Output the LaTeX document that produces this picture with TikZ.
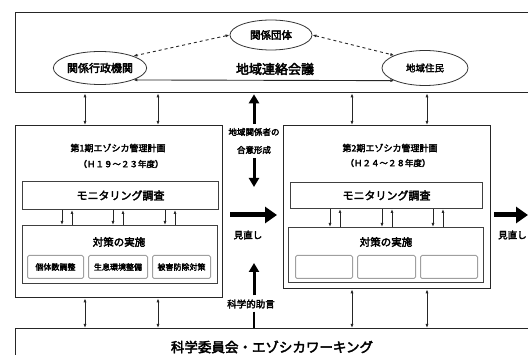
\documentclass[tikz,border=0pt]{standalone}
\usepackage{fontspec}
\newfontfamily\jp{Noto Sans CJK JP}[AutoFakeBold=3]
\usetikzlibrary{arrows.meta,shapes.geometric,calc}
\newcommand{\fs}[1]{\fontsize{#1}{#1}\selectfont}
\begin{document}
\begin{tikzpicture}[x=1pt,y=-1pt,font=\jp\bfseries,
  bigbox/.style={draw=black!85,line width=1.3pt,anchor=north west,inner sep=0pt},
  innerbox/.style={draw=black!75,line width=1pt,anchor=north west,inner sep=0pt},
  subbox/.style={draw=gray!75,line width=1pt,rounded corners=1.5pt,anchor=north west,inner sep=0pt,font=\jp\bfseries\fs{8}},
  oval/.style={ellipse,draw=black!80,line width=0.8pt,inner sep=0pt},
  lbl/.style={inner sep=0pt},
  dbl/.style={{Latex[length=4pt,width=3pt]}-{Latex[length=4pt,width=3pt]},line width=0.9pt,draw=black!85},
  dashdbl/.style={dbl,dashed},
  oneway/.style={-{Latex[length=4pt,width=3pt]},line width=0.9pt,draw=black!85},
  fat/.style={-{Triangle[length=9pt,width=10pt]},line width=3pt},
  fatter/.style={-{Triangle[length=12pt,width=16pt]},line width=5pt}]
\useasboundingbox (0,0) rectangle (528,355);
\clip (0,0) rectangle (528,355);

% top council
\node[bigbox,minimum width=530pt,minimum height=80pt] (council) at (15,12) {};
\node[oval,minimum width=82pt,minimum height=30pt,font=\jp\bfseries\fs{10.5}] (dantai) at (271,35) {関係団体};
\node[oval,minimum width=80pt,minimum height=33pt,font=\jp\bfseries\fs{11}] (gyosei) at (100,68) {関係行政機関};
\node[oval,minimum width=86pt,minimum height=35pt,font=\jp\bfseries\fs{9.5}] (jumin) at (425,68) {地域住民};
\node[lbl,font=\jp\bfseries\fs{13}] (kaigi) at (275,69) {地域連絡会議};
\draw[dashdbl] (dantai.west) -- (gyosei.north east);
\draw[dashdbl] (dantai.east) -- (jumin.north west);
\draw[dbl] (gyosei.south east) -- (jumin.south west);

% plan boxes
\node[bigbox,minimum width=207pt,minimum height=172pt] (plan1) at (15,125) {};
\node[bigbox,minimum width=207pt,minimum height=163pt] (plan2) at (283,125) {};
\node[lbl,font=\jp\bfseries\fs{9}] (t1) at (118,148) {第1期エゾシカ管理計画};
\node[lbl,font=\jp\bfseries\fs{8.5}] (p1) at (121,164) {（Ｈ１９～２３年度）};
\node[lbl,font=\jp\bfseries\fs{9}] (t2) at (390,148) {第2期エゾシカ管理計画};
\node[lbl,font=\jp\bfseries\fs{8.5}] (p2) at (388,163) {（Ｈ２４～２８年度）};

\node[innerbox,minimum width=196pt,minimum height=28pt,font=\jp\bfseries\fs{11}] (mon1) at (22,181) {モニタリング調査};
\node[innerbox,minimum width=192pt,minimum height=26pt,font=\jp\bfseries\fs{11}] (mon2) at (290,182) {モニタリング調査};
\node[innerbox,minimum width=195pt,minimum height=58pt] (act1) at (22,225) {};
\node[innerbox,minimum width=195pt,minimum height=55pt] (act2) at (288,227) {};
\node[lbl,font=\jp\bfseries\fs{10.5}] (a1) at (119,242) {対策の実施};
\node[lbl,font=\jp\bfseries\fs{10.5}] (a2) at (386,242) {対策の実施};

\node[subbox,minimum width=56pt,minimum height=23pt] (s11) at (27,255) {個体数調整};
\node[subbox,minimum width=59pt,minimum height=23pt] (s12) at (88,255) {生息環境整備};
\node[subbox,minimum width=58pt,minimum height=23pt] (s13) at (152,255) {被害防除対策};
\node[subbox,minimum width=57pt,minimum height=23pt] (s21) at (295,255) {};
\node[subbox,minimum width=58pt,minimum height=23pt] (s22) at (357,255) {};
\node[subbox,minimum width=57pt,minimum height=23pt] (s23) at (420,255) {};

% small arrow pairs between monitoring and measures
\foreach \x in {40,91,143}{
  \path ($(mon1.south west)+(\x,0)$) coordinate (ta);
  \path ($(mon1.south west)+(\x+10,0)$) coordinate (tb);
  \draw[oneway] (ta) -- (ta |- act1.north);
  \draw[oneway] (tb |- act1.north) -- (tb);
}
\foreach \x in {40,92,143}{
  \path ($(mon2.south west)+(\x,0)$) coordinate (ta);
  \path ($(mon2.south west)+(\x+10,0)$) coordinate (tb);
  \draw[oneway] (ta) -- (ta |- act2.north);
  \draw[oneway] (tb |- act2.north) -- (tb);
}

% science committee
\node[bigbox,minimum width=530pt,minimum height=40pt] (sci) at (15,328) {};
\node[lbl,font=\jp\bfseries\fs{13.5}] (scit) at (272,347) {科学委員会・エゾシカワーキング};

% vertical connectors
\foreach \x in {70,143}{
  \path ($(plan1.north west)+(\x,0)$) coordinate (ua);
  \draw[dbl] (ua |- council.south) -- (ua);
  \path ($(plan1.south west)+(\x,0)$) coordinate (la);
  \draw[dbl] (la) -- (la |- sci.north);
}
\foreach \x in {69,144}{
  \path ($(plan2.north west)+(\x,0)$) coordinate (ub);
  \draw[dbl] (ub |- council.south) -- (ub);
  \path ($(plan2.south west)+(\x,0)$) coordinate (lb);
  \draw[dbl] (lb) -- (lb |- sci.north);
}

% middle column
\node[lbl,font=\jp\bfseries\fs{8.5}] (cons1) at (254,132) {地域関係者の};
\node[lbl,font=\jp\bfseries\fs{8.5}] (cons2) at (254,150) {合意形成};
\draw[fat,shorten <=4pt,shorten >=1pt] (cons1.north) -- (cons1.north |- council.south);
\coordinate (dn) at (254,187);
\draw[fat,shorten <=4pt] (cons2.south) -- (dn);
\coordinate (rs) at (230,215);
\draw[fatter,shorten >=6pt] (rs) -- (rs -| plan2.west);
\node[lbl,font=\jp\bfseries\fs{9.5}] (mn1) at (248,235) {見直し};
\node[lbl,font=\jp\bfseries\fs{9.5}] (sadv) at (251,304) {科学的助言};
\coordinate (su) at (254,263);
\draw[fat,shorten <=4pt] (sadv.north -| su) -- (su);
\draw[line width=2.5pt,shorten <=3pt] (sadv.south -| su) -- (su |- sci.north);

% right exit arrow
\coordinate (rr) at (528,215);
\draw[fatter,shorten <=3pt] (plan2.east |- rr) -- (rr);
\node[lbl,font=\jp\bfseries\fs{9.5},anchor=west] (mn2) at (498,235) {見直し};
\end{tikzpicture}
\end{document}
